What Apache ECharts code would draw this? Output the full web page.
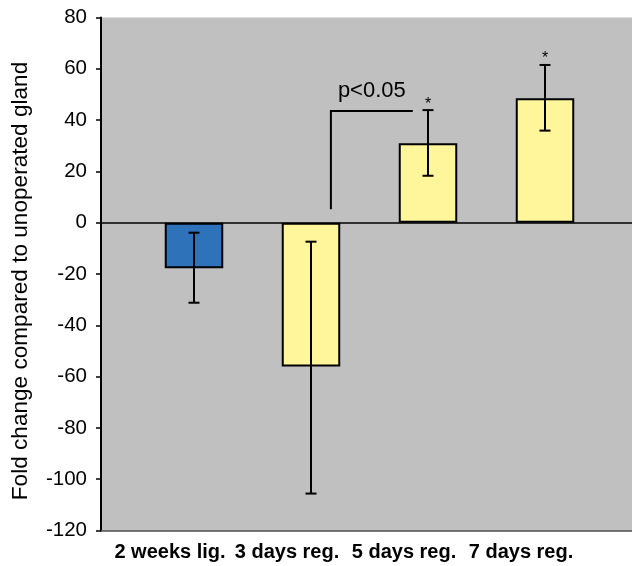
<!DOCTYPE html>
<html><head><meta charset="utf-8">
<script src="https://cdn.jsdelivr.net/npm/echarts@6/dist/echarts.min.js"></script>
<style>html,body{margin:0;padding:0;background:#fff}#c{width:632px;height:566px}</style>
</head><body><div id="c"></div>
<script>
const categories = ['2 weeks lig.', '3 days reg.', '5 days reg.', '7 days reg.'];
const values = [-17.8, -56.1, 31.0, 48.5];
const errLow = [-31.2, -105.6, 18.3, 35.9];
const errHigh = [-3.9, -7.4, 43.9, 61.5];
const stars = ['', '', '*', '*'];
const barColors = ['#2E72BA', '#FFF59B', '#FFF59B', '#FFF59B'];
const yMin = -120, yMax = 80, yInterval = 20;
const bracketX = [1.17, 1.87];
const bracketY = [5.2, 43.5];
const pLabel = 'p<0.05';
const pLabelPos = [1.52, 51.5];
const yTitle = 'Fold change compared to unoperated gland';

const FONT = '"Liberation Sans", Arial, sans-serif';
const chart = echarts.init(document.getElementById('c'), null, {renderer: 'canvas'});

const option = {
  animation: false,
  backgroundColor: '#fff',
  textStyle: {fontFamily: FONT},
  grid: [
    {left: 101, right: 0, top: 17.5, bottom: 35.5, show: true, backgroundColor: '#C0C0C0', borderWidth: 0, outerBoundsMode: 'none'},
    {left: 135.5, right: 28.5, top: 17.5, bottom: 35.5, outerBoundsMode: 'none'}
  ],
  xAxis: [
    {gridIndex: 0, type: 'value', min: 0, max: 1, position: 'bottom',
     axisLine: {show: true, onZero: false, lineStyle: {color: '#4a4a4a', width: 1.5}},
     axisTick: {show: false}, axisLabel: {show: false}, splitLine: {show: false}},
    {gridIndex: 0, type: 'value', min: 0, max: 1, position: 'bottom',
     axisLine: {show: true, onZero: true, lineStyle: {color: '#000', width: 1.5}},
     axisTick: {show: false}, axisLabel: {show: false}, splitLine: {show: false}},
    {gridIndex: 1, type: 'category', data: categories, position: 'bottom',
     axisLine: {show: false, onZero: false}, axisTick: {show: false}, splitLine: {show: false},
     axisLabel: {interval: 0, fontSize: 20, fontWeight: 'bold', color: '#000', fontFamily: FONT, margin: 12, padding: [0, 48, 0, 0]}}
  ],
  yAxis: [
    {gridIndex: 0, type: 'value', min: yMin, max: yMax, interval: yInterval,
     axisLine: {show: true, lineStyle: {color: '#000', width: 2}},
     axisTick: {show: true, length: 5, lineStyle: {color: '#000', width: 1.5}},
     axisLabel: {fontSize: 20.5, color: '#000', fontFamily: FONT, margin: 14},
     splitLine: {show: false},
     name: yTitle, nameLocation: 'middle', nameGap: 69,
     nameTextStyle: {fontSize: 22.6, color: '#000', fontFamily: FONT, padding: [0, 14, 0, 0]}},
    {gridIndex: 1, type: 'value', min: yMin, max: yMax, interval: yInterval, show: false}
  ],
  series: [
    {type: 'bar', xAxisIndex: 2, yAxisIndex: 1, barWidth: '50%',
     data: values.map((v, i) => ({value: v, itemStyle: {color: barColors[i]}})),
     itemStyle: {borderColor: '#000', borderWidth: 2}, z: 2},
    {type: 'custom', xAxisIndex: 2, yAxisIndex: 1, z: 3,
     data: categories.map((c, i) => [i, errLow[i], errHigh[i]]),
     renderItem: (params, api) => {
       const i = api.value(0);
       const lo = api.coord([i, api.value(1)]);
       const hi = api.coord([i, api.value(2)]);
       const cap = 5.5;
       const style = {stroke: '#000', lineWidth: 2};
       const children = [
         {type: 'line', shape: {x1: lo[0], y1: lo[1], x2: hi[0], y2: hi[1]}, style},
         {type: 'line', shape: {x1: lo[0] - cap, y1: lo[1], x2: lo[0] + cap, y2: lo[1]}, style},
         {type: 'line', shape: {x1: hi[0] - cap, y1: hi[1], x2: hi[0] + cap, y2: hi[1]}, style}
       ];
       if (stars[i]) {
         children.push({type: 'text', x: hi[0], y: hi[1] - 6,
           style: {text: stars[i], fill: '#000', fontSize: 16, fontFamily: FONT, align: 'center', verticalAlign: 'middle'}});
       }
       return {type: 'group', children};
     }},
    {type: 'custom', xAxisIndex: 2, yAxisIndex: 1, z: 3,
     data: [[1, 0]],
     renderItem: (params, api) => {
       const band = api.size([1, 0])[0];
       const px = x => { const c = Math.floor(x); return api.coord([c, 0])[0] + (x - c) * band; };
       const py = y => api.coord([0, y])[1];
       return {type: 'group', children: [
         {type: 'polyline', shape: {points: [
            [px(bracketX[0]), py(bracketY[0])],
            [px(bracketX[0]), py(bracketY[1])],
            [px(bracketX[1]), py(bracketY[1])]]},
          style: {stroke: '#000', lineWidth: 2, fill: null}},
         {type: 'text', x: px(pLabelPos[0]), y: py(pLabelPos[1]),
          style: {text: pLabel, fill: '#000', fontSize: 22, fontFamily: FONT, align: 'center', verticalAlign: 'middle'}}
       ]};
     }}
  ]
};
chart.setOption(option);
</script>
</body></html>
